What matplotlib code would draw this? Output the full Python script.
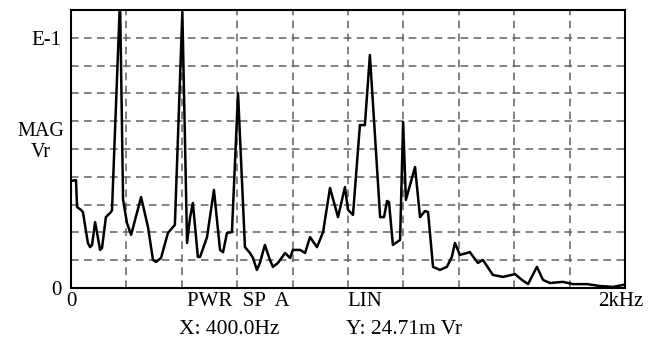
import numpy as np
import matplotlib
matplotlib.use("Agg")
import matplotlib.pyplot as plt

plt.rcParams['font.family'] = ['Liberation Serif', 'DejaVu Serif']

# spectrum trace (Hz, magnitude in grid divisions)
freq = [0, 18, 22, 36, 43, 61, 69, 76, 87, 105, 112, 126, 144, 148, 177,
        188, 202, 217, 253, 278, 296, 307, 325, 350, 375, 402,
        419, 430, 440, 458, 466, 491, 516, 538, 549, 563, 581, 603,
        628, 646, 657, 671, 682, 700, 718, 729, 747, 773, 791, 801, 827, 845,
        863, 888, 910, 935, 964, 989, 1000, 1018, 1043, 1061, 1079,
        1116, 1130, 1141, 1148, 1162, 1188, 1199, 1209, 1242, 1260, 1278, 1289,
        1307, 1332, 1357, 1375, 1386, 1404, 1440, 1469, 1487, 1523, 1560, 1603,
        1628, 1650, 1682, 1704, 1729, 1776, 1812, 1863, 1910, 1957, 1993]
mag = [3.85, 3.88, 2.91, 2.81, 2.73, 1.62, 1.47, 1.55, 2.37, 1.37, 1.44, 2.55, 2.73, 2.8, 10.4,
       3.17, 2.34, 1.91, 3.27, 2.19, 1.01, 0.94, 1.08, 1.98, 2.27, 9.93,
       1.62, 2.55, 3.06, 1.12, 1.12, 1.83, 3.53, 1.37, 1.29, 1.98, 2.01, 7.01,
       1.47, 1.26, 1.08, 0.65, 0.90, 1.55, 1.01, 0.76, 0.90, 1.26, 1.08, 1.37, 1.37, 1.26,
       1.83, 1.47, 2.01, 3.60, 2.55, 3.63, 2.81, 2.63, 5.86, 5.86, 8.38,
       2.55, 2.55, 3.13, 3.09, 1.55, 1.73, 5.97, 3.17, 4.35, 2.55, 2.77, 2.73,
       0.76, 0.65, 0.76, 1.12, 1.62, 1.19, 1.29, 0.90, 1.01, 0.47, 0.40, 0.50,
       0.29, 0.14, 0.76, 0.29, 0.18, 0.22, 0.14, 0.14, 0.07, 0.04, 0.11]

xtick_pos = [0, 603, 1061, 1985]
xtick_lbl = ['0', 'PWR  SP  A', 'LIN', '2kHz']
ytick_pos = [0, 9]
ytick_lbl = ['0', 'E-1']

fig = plt.figure(figsize=(6.61, 3.5), dpi=100)
ax = fig.add_axes([71/661, 62/350, 554/661, 278/350])

ax.plot(freq, mag, color='black', lw=1.8, solid_joinstyle='round')
ax.set_xlim(0, 2000)
ax.set_ylim(0, 10)

# dashed graticule
for gx in np.arange(200, 2000, 200):
    ax.axvline(gx, color='#606060', lw=1.1, ls=(0, (5, 3.5)), zorder=0)
for gy in range(1, 10):
    ax.axhline(gy, color='#606060', lw=1.1, ls=(0, (5, 3.5)), zorder=0)

ax.set_xticks(xtick_pos, xtick_lbl)
ax.set_yticks(ytick_pos, ytick_lbl)
ax.tick_params(length=0, labelsize=15)
ax.tick_params(axis='x', pad=3)
ax.tick_params(axis='y', pad=7)
for s in ax.spines.values():
    s.set_linewidth(1.5)

ax.text(-0.054, 0.525, 'MAG\nVr', transform=ax.transAxes, ha='center',
        va='center', fontsize=14.5, linespacing=1.2)
fig.text(179/661, 1 - 329/350, 'X: 400.0Hz', ha='left', va='center', fontsize=15.5)
fig.text(346/661, 1 - 329/350, 'Y: 24.71m Vr', ha='left', va='center', fontsize=15.5)

fig.savefig('out.png', dpi=100)
